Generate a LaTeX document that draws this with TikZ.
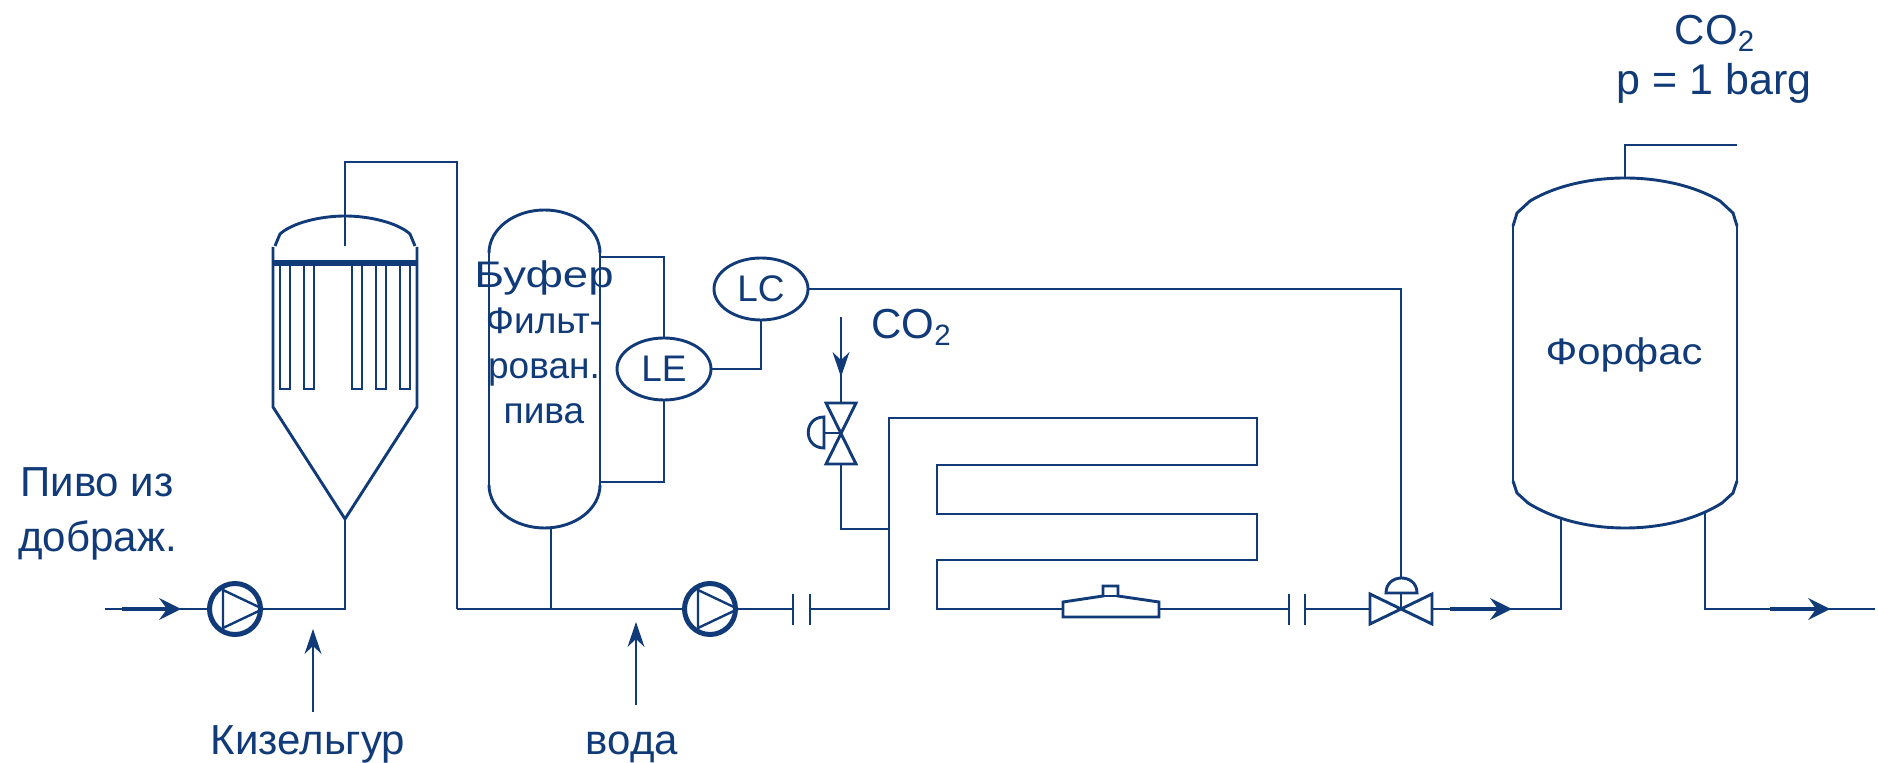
\documentclass[tikz,border=0pt]{standalone}
\usepackage{fontspec}
\usepackage{graphicx}
\setmainfont{Liberation Sans}
\usetikzlibrary{arrows.meta,shapes.geometric}
\definecolor{ink}{RGB}{16,58,120}
\tikzset{
  line/.style={draw=ink,line width=1.45pt,line join=miter},
  flow/.style={draw=ink,line width=1.7pt,-{Stealth[length=11pt,width=11pt,inset=4pt,line width=0pt]}},
  feed/.style={draw=ink,line width=1.45pt,-{Stealth[length=12.5pt,width=8.5pt,inset=4pt,line width=0pt]}},
  lab/.style={text=ink,font=\fontsize{21}{22.7}\selectfont,inner sep=0pt},
  lab2/.style={text=ink,font=\fontsize{18.5}{22.7}\selectfont,inner sep=0pt},
  pump/.style={circle,draw=ink,line width=2.5pt,minimum size=25.5pt,inner sep=0pt},
  instr/.style={ellipse,draw=ink,line width=1.45pt,minimum width=47pt,minimum height=31pt,inner sep=0pt,text=ink,font=\fontsize{18.5}{22}\selectfont},
}
\begin{document}
\begin{tikzpicture}[x=0.5pt,y=-0.5pt]
\useasboundingbox (0,0) rectangle (1878,763);
% named points
\coordinate (in) at (105,609);
\coordinate (inA) at (181,609);
\node[pump] (p1) at (235,609) {};
\node[pump] (p2) at (710,609) {};
\coordinate (coneTip) at (345,519);
\coordinate (j1) at (345,609);
\coordinate (r0) at (457,609);
\coordinate (j2) at (551,609);
\coordinate (c1a) at (793,609);
\coordinate (c1b) at (810,609);
\coordinate (j3) at (889,609);
\coordinate (coilEnd) at (937,609);
\coordinate (fl) at (1063,609);
\coordinate (fr) at (1159,609);
\coordinate (c2a) at (1289,609);
\coordinate (c2b) at (1305,609);
\coordinate (vl) at (1370,609);
\coordinate (vc) at (1401,609);
\coordinate (vr) at (1432,609);
\coordinate (oA) at (1512,609);
\coordinate (t1) at (1561,609);
\coordinate (t1up) at (1561,519);
\coordinate (t2up) at (1705,513);
\coordinate (t2) at (1705,609);
\coordinate (o2A) at (1830,609);
\coordinate (outEnd) at (1875,609);
% left pump
\draw[line] (in) -- (p1);
\draw[flow] (122,609) -- (inA);
\draw[line,line width=1.2pt] (223,590) -- (263,609) -- (223,628) -- cycle;
\draw[line] (263,609) -- (j1) -- (coneTip);
% filter
\draw[line] (273,247) -- (273,407) -- (coneTip) -- (417,407) -- (417,247);
\draw[line] (275,246) -- (280,234) .. controls (292,223) and (320,216) .. (345,216) .. controls (370,216) and (398,223) .. (410,234) -- (415,246);
\draw[draw=ink,line width=2.6pt] (273,263) -- (417,263);
\foreach \a/\b in {280/290,304/314,352/362,376/386,400/410}
  \draw[line] (\a,263) -- (\a,389) -- (\b,389) -- (\b,263);
\draw[line] (345,246) -- (345,162) -- (457,162) -- (r0);
% main line to pump 2
\draw[line] (r0) -- (p2);
\draw[line] (j2) -- (551,528);
\draw[line,line width=1.2pt] (698,590) -- (738,609) -- (698,628) -- cycle;
% buffer
\draw[line] (489,253) -- (489,485);
\draw[line] (600,253) -- (600,485);
\draw[line] (489,253) .. controls (489,229) and (514,210) .. (544.5,210) .. controls (575,210) and (600,229) .. (600,253);
\draw[line] (489,485) .. controls (489,509) and (514,528) .. (544.5,528) .. controls (575,528) and (600,509) .. (600,485);
\node[lab2,align=center,anchor=base] (buf) at (544,424) {\scalebox{1.23}[1]{Буфер}\\Фильт-\\рован.\\пива};
% instruments
\node[instr] (le) at (664,369) {LE};
\node[instr] (lc) at (761,289) {LC};
\draw[line] (600,257) -- (le.north |- 600,257) -- (le.north);
\draw[line] (600,482) -- (le.south |- 600,482) -- (le.south);
\draw[line] (le.east) -| (lc.south);
\draw[line] (lc.east) -- (1401,289) -- (1401,578);
% capacitor 1
\draw[line] (738,609) -- (c1a);
\draw[line] (c1a |- 0,594) -- (c1a |- 0,625);
\draw[line] (c1b |- 0,594) -- (c1b |- 0,625);
\draw[line] (c1b) -- (j3) -- (889,418) -- (1257,418) -- (1257,465) -- (937,465) -- (937,514) -- (1257,514) -- (1257,560) -- (937,560) -- (coilEnd) -- (fl);
% CO2 valve
\draw[line] (826,403) -- (856,403) -- (826,464) -- (856,464) -- cycle;
\draw[line] (841,433) -- (824,433);
\draw[line] (824,417) .. controls (803,417) and (803,448) .. (824,448) -- cycle;
\draw[feed] (841,317) -- (841,377);
\draw[line] (841,368) -- (841,403);
\draw[line] (841,464) -- (841,529) -- (889,529);
% filter body
\draw[line] (fl) -- (1063,602) -- (1103,596) -- (1103,586) -- (1118,586) -- (1118,596) -- (1159,602) -- (1159,617) -- (1063,617) -- cycle;
\draw[line] (1103,596) -- (1118,596);
% capacitor 2
\draw[line] (fr) -- (c2a);
\draw[line] (c2a |- 0,594) -- (c2a |- 0,625);
\draw[line] (c2b |- 0,594) -- (c2b |- 0,625);
\draw[line] (c2b) -- (vl);
% control valve
\draw[line] (1370,594) -- (1432,624) -- (1432,594) -- (1370,624) -- cycle;
\draw[line] (vc) -- (1401,593);
\draw[line] (1386,593) -- (1417,593) .. controls (1417,573) and (1386,573) .. (1386,593) -- cycle;
\draw[line] (vr) -- (t1) -- (t1up);
\draw[flow] (1450,609) -- (oA);
% forfas
\draw[line] (1513,226) -- (1513,481);
\draw[line] (1737,226) -- (1737,481);
\draw[line] (1513,226) -- (1517,213) -- (1530,201) .. controls (1555,186) and (1590,178) .. (1625,178) .. controls (1660,178) and (1695,186) .. (1720,201) -- (1733,213) -- (1737,226);
\draw[line] (1513,481) -- (1517,493) -- (1528,503) .. controls (1555,520) and (1590,528) .. (1625,528) .. controls (1660,528) and (1695,520) .. (1722,503) -- (1733,493) -- (1737,481);
\draw[line] (1625,178) -- (1625,145) -- (1737,145);
\draw[line] (t2up) -- (t2) -- (outEnd);
\draw[flow] (1770,609) -- (o2A);
% feeds
\draw[feed] (313,712) -- (313,629);
\draw[feed] (636,705) -- (636,622);
% labels
\node[lab,anchor=base west] (beer1) at (20,497) {Пиво из};
\node[lab,anchor=base west] (beer2) at (18,552) {дображ.};
\node[lab,anchor=base] (kz) at (308,754) {Кизельгур};
\node[lab,anchor=base] (wat) at (632,754) {вода};
\node[lab2,anchor=base] (ff) at (1624,365) {\scalebox{1.13}[1]{Форфас}};
\node[lab,anchor=base west] (co2a) at (871,339) {CO\textsubscript{2}};
\node[lab,anchor=base] (co2b) at (1715,45) {CO\textsubscript{2}};
\node[lab,anchor=base,font=\fontsize{21.5}{23}\selectfont] (pres) at (1714,95) {p = 1 barg};
\end{tikzpicture}
\end{document}
